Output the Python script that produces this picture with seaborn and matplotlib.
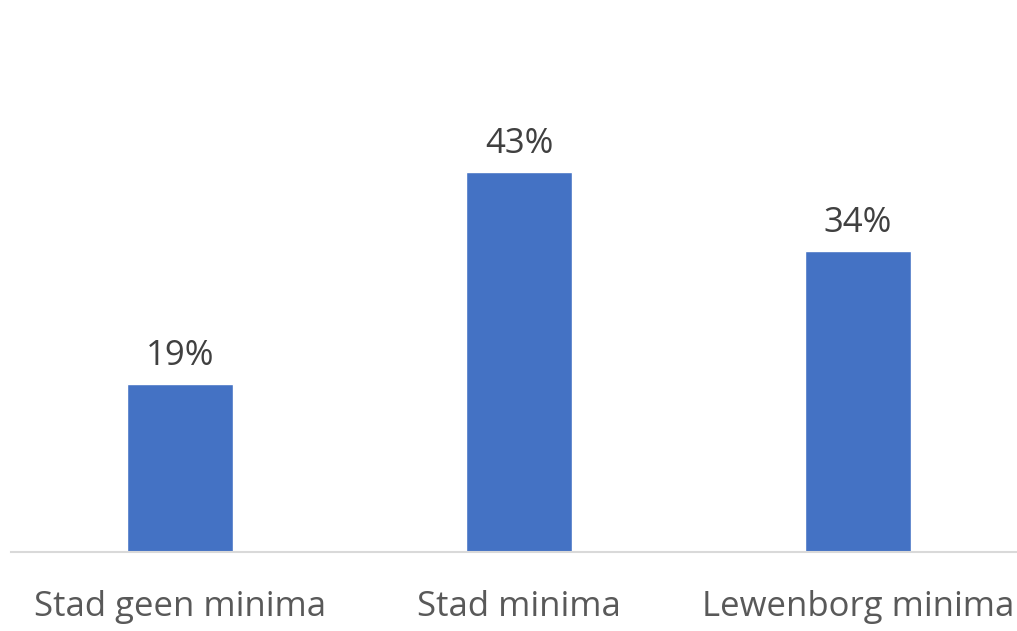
import matplotlib.pyplot as plt
import pandas as pd
import seaborn as sns

# Data
CATEGORIES = ["Stad geen minima", "Stad minima", "Lewenborg minima"]
VALUES = [19, 43, 34]
LABELS = ["19%", "43%", "34%"]

BAR_COLOR = "#4472C4"
TEXT_COLOR = "#595959"

sns.set_theme(style="white")
plt.rcParams["font.family"] = ["Open Sans", "DejaVu Sans"]

df = pd.DataFrame({"cat": CATEGORIES, "val": VALUES})

fig = plt.figure(figsize=(10.17, 6.31), dpi=100)
ax = fig.add_axes([10.5 / 1017, 79 / 631, 1017 / 1017, 552 / 631])

sns.barplot(data=df, x="cat", y="val", color=BAR_COLOR, width=0.31,
            saturation=1, ax=ax)

for i, (v, lab) in enumerate(zip(VALUES, LABELS)):
    ax.annotate(lab, (i, v), xytext=(0, 8), textcoords="offset points",
                ha="center", va="bottom", fontsize=25, color="#404040")

ax.set_ylim(0, 62.4)
ax.set_xlim(-0.5, 2.5)
ax.set_xlabel("")
ax.set_ylabel("")
ax.set_yticks([])
ax.tick_params(axis="x", length=0, pad=27, labelsize=25, labelcolor=TEXT_COLOR)
for side in ["top", "left", "right"]:
    ax.spines[side].set_visible(False)
ax.spines["bottom"].set_color("#d9d9d9")
ax.spines["bottom"].set_linewidth(1.5)

fig.savefig("out.png", dpi=100)
